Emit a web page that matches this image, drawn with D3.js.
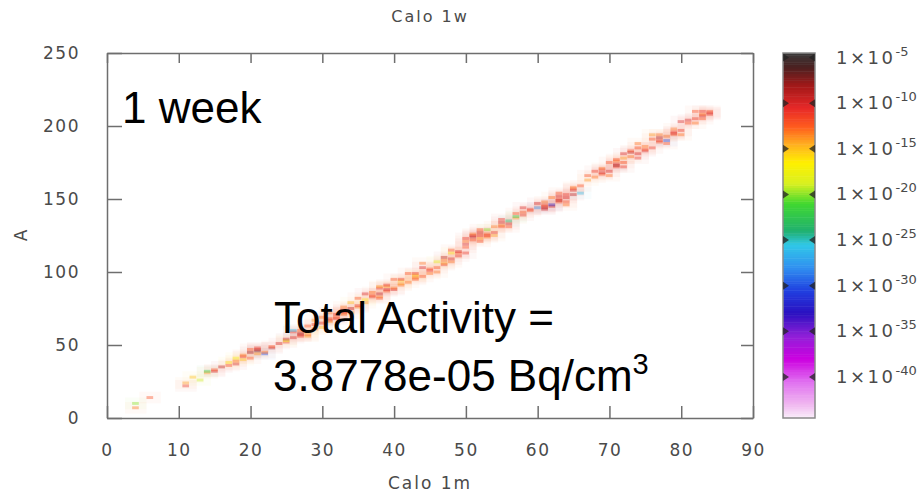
<!DOCTYPE html>
<html>
<head>
<meta charset="utf-8">
<script src="https://cdn.jsdelivr.net/npm/d3@7"></script>
<style>
  body { margin: 0; background: #fff; }
  svg { display: block; }
  .tick text { font-family: "DejaVu Sans", sans-serif; font-size: 17px; fill: #4a4a4a; letter-spacing: 1.5px; }
  .tick line, .domain { stroke: #6e6e6e; stroke-width: 1.5; }
</style>
</head>
<body>
<svg id="chart" width="924" height="495"></svg>
<script>
// axis ticks
const xTicks = [0, 10, 20, 30, 40, 50, 60, 70, 80, 90];
const yTicks = [0, 50, 100, 150, 200, 250];
const barTicks = [-5, -10, -15, -20, -25, -30, -35, -40];

// nuclides: one entry per Z, with the A values and log10(activity) of each cell
const zList = [4, 6, 11, 12, 13, 14, 15, 16, 17, 18, 19, 20, 21, 22, 23, 24, 25, 26, 27, 28,
  29, 30, 31, 32, 33, 34, 35, 36, 37, 38, 39, 40, 41, 42, 43, 44, 45, 46, 47, 48,
  49, 50, 51, 52, 53, 54, 55, 56, 57, 58, 59, 60, 61, 62, 63, 64, 65, 66, 67, 68,
  69, 70, 71, 72, 73, 74, 75, 76, 77, 78, 79, 80, 81, 82, 83, 84];
const aList = [[7,10],[14],[22,24],[28],[26],[31,32],[32,33],[35],[36,38],[37,39,41],
  [40,42,43],[41,45,47],[44,46,47,48],[44,45],[48,49],[51],[52,53,54],[55,59,60],[56,57,58,60],[56,57,59,63],
  [61,64,67],[62,65,69],[66,67,68,72],[68,69,71],[71,72,73,74,76],[72,75,79],[76,77,82],[79,81,85],[83,84,86],[82,83,85,89,90],
  [87,88,90,91],[88,89,95],[91,92,94,95],[93,99],[95,96,97,98,99],[97,103,106],[99,101,102],[100,103,107],[105,106,108,110],[107,109,113,115],
  [111,113,114],[113,117,119,121,123],[122,124,125,126],[121,123,125,127,129],[124,125,126,129],[125,127,131],[131,132,134,136],[131,133,135],[137,138,140],[139,141,144],
  [142,143],[144,147],[143,144,145,146,148],[145,146,151],[148,149,150,152,154],[146,148,151,153],[153,156,157,158],[154,159],[163,166],[165,169],
  [167,168,170,171],[166,169,175],[172,173,174,176,177],[172,175,178,181],[179,182,183],[178,181,185,188],[183,184,186],[185,191,194],[189,190,192,194],[188,190,193],
  [194,195,196,198],[194,197,203],[202,204],[202,205,210],[205,207,208,210],[208,209,210]];
const expList = [[-13,-20],[-12],[-11,-14],[-15],[-19],[-14,-22],[-10,-12],[-9],[-12,-16],[-10,-13,-17],
  [-15,-11,-13],[-12,-8,-12],[-14,-7,-10,-11],[-30,-13],[-9,-12],[-10],[-12,-18,-9],[-10,-11,-26],[-11,-10,-9,-12],[-14,-13,-16,-12],
  [-13,-11,-14],[-15,-10,-13],[-14,-11,-12,-13],[-10,-12,-11],[-13,-12,-10,-11,-13],[-14,-9,-15],[-13,-11,-12],[-14,-16,-10],[-11,-12,-13],[-12,-13,-9,-11,-14],
  [-12,-10,-14,-11],[-10,-13,-12],[-13,-14,-15,-11],[-13,-12],[-12,-13,-14,-15,-11],[-12,-10,-13],[-13,-11,-12],[-13,-12,-18],[-11,-14,-13,-9],[-13,-10,-16,-12],
  [-11,-12,-10],[-11,-12,-10,-13,-11],[-12,-9,-10,-13],[-12,-14,-11,-10,-12],[-13,-11,-12,-20],[-14,-11,-13],[-12,-13,-10,-11],[-12,-10,-24],[-14,-22,-12],[-11,-12,-10],
  [-12,-11],[-28,-10],[-10,-9,-11,-12,-13],[-10,-32,-13],[-12,-9,-11,-10,-12],[-13,-12,-10,-11],[-9,-10,-12,-13],[-26,-12],[-14,-12],[-13,-11],
  [-12,-10,-11,-13],[-13,-10,-12],[-11,-8,-10,-13,-12],[-11,-12,-14,-10],[-13,-9,-12],[-11,-10,-12,-13],[-10,-12,-13],[-11,-12,-14],[-12,-11,-9,-13],[-12,-30,-13],
  [-12,-10,-11,-13],[-13,-11,-10],[-12,-10],[-13,-11,-12],[-12,-10,-13,-11],[-11,-10,-12]];

// palette of the colour bar (log10 value -> colour)
const paletteLogs = [-4.5, -6, -8, -10.5, -12.5, -14.5, -16.5, -18.8, -21, -24, -25.5, -28, -30.5, -33, -35.5, -38, -40.5, -43, -44.5];
const paletteColors = ["#3a3a3a", "#4a2020", "#a01818", "#e62828", "#ff5a1e", "#ffb020", "#fff000", "#d8f020", "#40d830", "#20b070", "#30c8e8", "#3090f0", "#2040e0", "#2a10c0", "#9020d8", "#cc00e0", "#e070f0", "#f0b8f0", "#faf0fa"];

const svg = d3.select('#chart');
const plotLeft = 107, plotRight = 753, plotTop = 53, plotBottom = 418;

const x = d3.scaleLinear().domain([0, 90]).range([plotLeft, plotRight]);
const y = d3.scaleLinear().domain([0, 250]).range([plotBottom, plotTop]);
const color = d3.scaleLinear().domain(paletteLogs).range(paletteColors).interpolate(d3.interpolateRgb);

// flatten the cells
let cells = [];
zList.forEach((z, i) => {
  aList[i].forEach((a, j) => {
    cells.push({z: z, a: a, e: expList[i][j]});
  });
});

// soft halo around the band
svg.append('g').selectAll('rect')
  .data(cells)
  .enter()
  .append('rect')
  .attr('x', d => x(d.z - 1.5))
  .attr('y', d => y(d.a + 4))
  .attr('width', x(3) - x(0))
  .attr('height', y(0) - y(8))
  .attr('fill', d => color(d.e))
  .attr('opacity', 0.035);

svg.append('g').selectAll('rect')
  .data(cells)
  .enter()
  .append('rect')
  .attr('x', d => x(d.z - 0.5))
  .attr('y', d => y(d.a + 1))
  .attr('width', x(1) - x(0) - 0.5)
  .attr('height', y(0) - y(2))
  .attr('fill', d => color(d.e))
  .attr('opacity', 0.4);

// axes with inward ticks
svg.append('g')
  .attr('transform', 'translate(0,' + plotBottom + ')')
  .call(d3.axisBottom(x).tickValues(xTicks).tickSize(-12).tickSizeOuter(0).tickPadding(26));
svg.append('g')
  .attr('transform', 'translate(' + plotLeft + ',0)')
  .call(d3.axisLeft(y).tickValues(yTicks).tickSize(-15).tickSizeOuter(0).tickPadding(27));
svg.append('g')
  .attr('transform', 'translate(0,' + plotTop + ')')
  .call(d3.axisTop(x).tickValues(xTicks).tickSize(-10).tickSizeOuter(0).tickFormat(''));
svg.append('g')
  .attr('transform', 'translate(' + plotRight + ',0)')
  .call(d3.axisRight(y).tickValues(yTicks).tickSize(-12).tickSizeOuter(0).tickFormat(''));

// titles
svg.append('text')
  .attr('x', (plotLeft + plotRight) / 2).attr('y', 22)
  .attr('text-anchor', 'middle')
  .style('font-family', 'DejaVu Sans').style('font-size', '16px').style('letter-spacing', '2px')
  .attr('fill', '#4a4a4a')
  .text('Calo 1w');
svg.append('text')
  .attr('x', (plotLeft + plotRight) / 2).attr('y', 489)
  .attr('text-anchor', 'middle')
  .style('font-family', 'DejaVu Sans').style('font-size', '17px').style('letter-spacing', '2px')
  .attr('fill', '#4a4a4a')
  .text('Calo 1m');
svg.append('text')
  .attr('transform', 'translate(27,' + ((plotTop + plotBottom) / 2) + ') rotate(-90)')
  .attr('text-anchor', 'middle')
  .style('font-family', 'DejaVu Sans').style('font-size', '17px')
  .attr('fill', '#4a4a4a')
  .text('A');

// colour bar
const barX = 783, barW = 32;
const yBar = d3.scaleLinear().domain([-44.5, -4.5]).range([plotBottom, plotTop]);
const barSteps = d3.range(-44.5, -4.5, 0.25);
svg.append('g').selectAll('rect')
  .data(barSteps)
  .enter()
  .append('rect')
  .attr('x', barX)
  .attr('y', d => yBar(d + 0.25))
  .attr('width', barW)
  .attr('height', yBar(-44.5) - yBar(-44.25) + 0.5)
  .attr('fill', d => color(d + 0.125));
svg.append('rect')
  .attr('x', barX).attr('y', plotTop)
  .attr('width', barW).attr('height', plotBottom - plotTop)
  .attr('fill', 'none').attr('stroke', '#8a8a8a').attr('stroke-width', 1.5);

const bt = svg.append('g').selectAll('g')
  .data(barTicks)
  .enter()
  .append('g')
  .attr('transform', d => 'translate(0,' + yBar(d) + ')');
bt.append('path')
  .attr('d', 'M' + barX + ',-4 L' + (barX + 6) + ',0 L' + barX + ',4 Z')
  .attr('fill', '#222').attr('opacity', 0.75);
bt.append('path')
  .attr('d', 'M' + (barX + barW) + ',-4 L' + (barX + barW - 6) + ',0 L' + (barX + barW) + ',4 Z')
  .attr('fill', '#222').attr('opacity', 0.75);
const lbl = bt.append('text')
  .attr('x', 836).attr('y', 6)
  .style('font-family', 'DejaVu Sans').style('font-size', '18px')
  .attr('fill', '#4a4a4a');
lbl.append('tspan').style('letter-spacing', '2.5px').text('1×10');
lbl.append('tspan').attr('dy', -8).style('font-size', '13px').text(d => d);

// annotations
const note = svg.append('g')
  .style('font-family', '"Liberation Sans", Arial, sans-serif')
  .style('font-size', '44px')
  .attr('fill', '#000');
note.append('text').attr('x', 122).attr('y', 123).text('1 week');
note.append('text').attr('x', 274).attr('y', 333).text('Total Activity =');
const act = note.append('text').attr('x', 273).attr('y', 391);
act.append('tspan').text('3.8778e-05 Bq/cm');
act.append('tspan').attr('dy', -17).style('font-size', '29px').text('3');
</script>
</body>
</html>
